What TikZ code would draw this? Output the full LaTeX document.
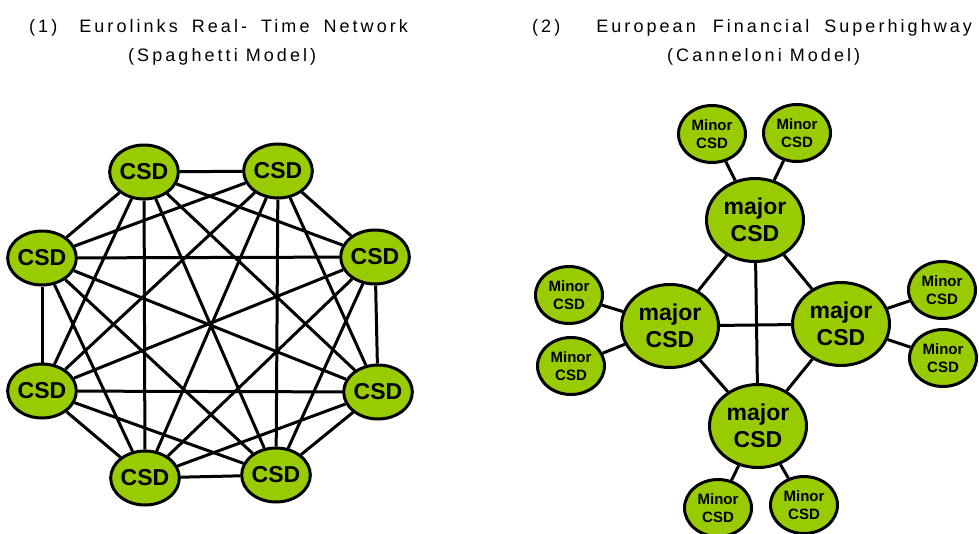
\documentclass[tikz,border=0pt]{standalone}
\usepackage{fontspec}
\setmainfont{Liberation Sans}
\newfontfamily\titlefont[LetterSpace=17]{Liberation Sans}
\usetikzlibrary{shapes.geometric,backgrounds}
\definecolor{csdgreen}{RGB}{153,204,0}
\begin{document}
\begin{tikzpicture}[x=1pt,y=-1pt,
  base/.style={ellipse, draw=black, line width=3pt, fill=csdgreen, inner sep=0pt, align=center},
  csd/.style={base, minimum width=67pt, minimum height=54pt, font=\bfseries\fontsize{23}{26}\selectfont},
  major/.style={base, minimum width=97pt, minimum height=83pt, font=\bfseries\fontsize{23}{27}\selectfont},
  minor/.style={base, minimum width=67pt, minimum height=57pt, font=\bfseries\fontsize{15}{18}\selectfont},
  link/.style={line width=3pt},
  title/.style={anchor=base west, inner sep=0pt, font=\titlefont\fontsize{18}{20}\selectfont}]
\useasboundingbox (0,0) rectangle (979,533);
% titles
\node[title] (t1) at (29,32) {(1)\hspace{22pt}Eurolinks\hspace{14pt}Real-\hspace{14pt}Time\hspace{14pt}Network};
\node[title] (t1b) at (128,61) {(Spaghetti Model)};
\node[title] (t2) at (532,32) {(2)\hspace{36pt}European\hspace{17pt}Financial\hspace{15pt}Superhighway};
\node[title] (t2b) at (667,61) {(Canneloni Model)};
% spaghetti
\node[csd] (a1) at (144,172) {CSD};
\node[csd] (a2) at (278,171) {CSD};
\node[csd] (a3) at (375,257) {CSD};
\node[csd] (a4) at (378,392) {CSD};
\node[csd] (a5) at (276,475) {CSD};
\node[csd] (a6) at (145,478) {CSD};
\node[csd] (a7) at (42,391) {CSD};
\node[csd] (a8) at (42,258) {CSD};
\begin{scope}[on background layer]
\foreach \i in {1,...,8}{
  \foreach \j in {1,...,8}{
    \ifnum\i<\j \draw[link] (a\i) -- (a\j); \fi
  }
}
\end{scope}
% canneloni
\node[major] (mt) at (755,220) {major\\CSD};
\node[major] (ml) at (670,326) {major\\CSD};
\node[major] (mr) at (841,324) {major\\CSD};
\node[major] (mb) at (758,426) {major\\CSD};
\node[minor] (n1) at (712,134) {Minor\\CSD};
\node[minor] (n2) at (797,133) {Minor\\CSD};
\node[minor] (n3) at (569,295) {Minor\\CSD};
\node[minor] (n4) at (571,366) {Minor\\CSD};
\node[minor] (n5) at (942,290) {Minor\\CSD};
\node[minor] (n6) at (943,358) {Minor\\CSD};
\node[minor] (n7) at (718,508) {Minor\\CSD};
\node[minor] (n8) at (804,505) {Minor\\CSD};
\begin{scope}[on background layer]
\draw[link] (mt) -- (ml);
\draw[link] (mt) -- (mr);
\draw[link] (mt) -- (mb);
\draw[link] (ml) -- (mr);
\draw[link] (ml) -- (mb);
\draw[link] (mr) -- (mb);
\draw[link] (n1) -- (mt);
\draw[link] (n2) -- (mt);
\draw[link] (n3) -- (ml);
\draw[link] (n4) -- (ml);
\draw[link] (n5) -- (mr);
\draw[link] (n6) -- (mr);
\draw[link] (n7) -- (mb);
\draw[link] (n8) -- (mb);
\end{scope}
\end{tikzpicture}
\end{document}
